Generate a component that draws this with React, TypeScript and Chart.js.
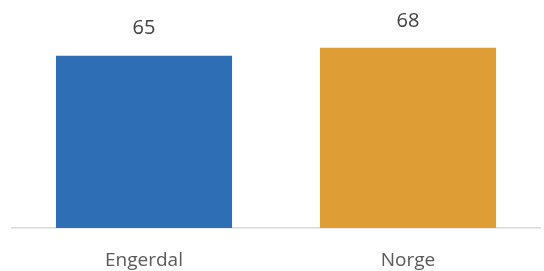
import React, { useEffect, useRef } from "react";
import { Chart, registerables } from "chart.js";

Chart.register(...registerables);

const categories = ["Engerdal", "Norge"];
const values = [65, 68];
const barColors = ["#2E6EB5", "#DF9D36"];

const valueLabelPlugin = {
  id: "valueLabels",
  afterDatasetsDraw(chart: any) {
    const { ctx } = chart;
    const meta = chart.getDatasetMeta(0);
    ctx.save();
    ctx.font = "20px 'Open Sans'";
    ctx.fillStyle = "#404040";
    ctx.textAlign = "center";
    ctx.textBaseline = "middle";
    meta.data.forEach((bar: any, i: number) => {
      ctx.fillText(String(values[i]), bar.x, bar.y - 27);
    });
    ctx.restore();
  },
};

export default function App() {
  const ref = useRef<HTMLCanvasElement>(null);
  useEffect(() => {
    if (!ref.current) return;
    const chart = new Chart(ref.current, {
      type: "bar",
      data: {
        labels: categories,
        datasets: [
          {
            data: values,
            backgroundColor: barColors,
            categoryPercentage: 0.667,
            barPercentage: 1,
          },
        ],
      },
      options: {
        animation: false,
        responsive: false,
        layout: { padding: { left: 12, right: 4, top: 16, bottom: 0 } },
        plugins: { legend: { display: false }, tooltip: { enabled: false } },
        scales: {
          x: {
            grid: { display: false, drawTicks: false },
            border: { display: true, color: "#D9D9D9", width: 1.5 },
            ticks: { color: "#595959", font: { family: "'Open Sans'", size: 19 }, padding: 21 },
            afterFit: (scale: any) => {
              scale.height = 43;
            },
          },
          y: {
            display: false,
            min: 0,
            max: 80,
          },
        },
      },
      plugins: [valueLabelPlugin],
    });
    return () => chart.destroy();
  }, []);
  return (
    <div style={{ position: "fixed", left: 0, top: 0, width: 544, height: 271, background: "#fff" }}>
      <canvas ref={ref} width={544} height={271} />
    </div>
  );
}
